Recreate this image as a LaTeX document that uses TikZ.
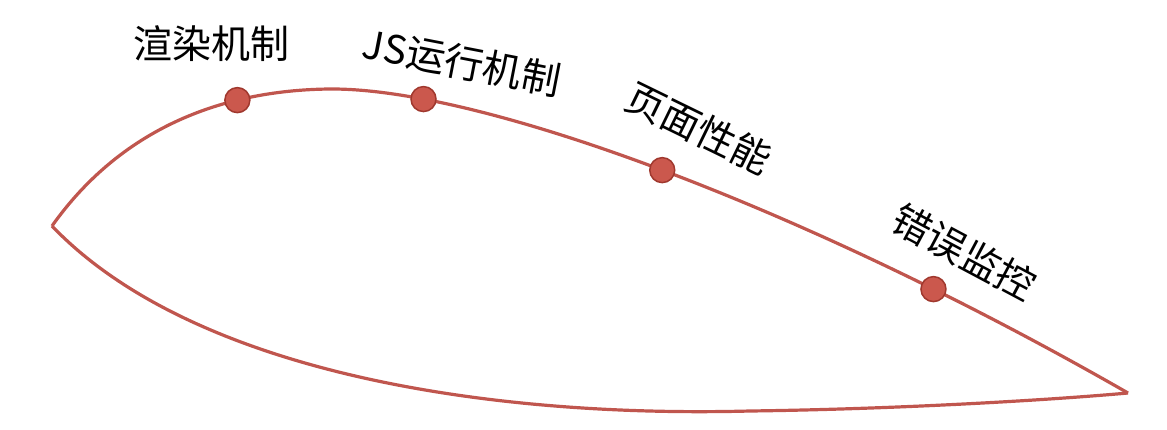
\documentclass[tikz,border=0pt]{standalone}
\usepackage{fontspec}
\newfontfamily\cjk{Noto Sans CJK SC}
\definecolor{linered}{RGB}{192,86,78}
\definecolor{dotfill}{RGB}{203,88,77}
\definecolor{dotdraw}{RGB}{160,56,46}
\tikzset{
  wing/.style={draw=linered, line width=3.2pt, line join=miter},
  dot/.style={circle, fill=dotfill, draw=dotdraw, line width=1.5pt, minimum size=25pt, inner sep=0pt},
  lbl/.style={font=\cjk\fontsize{39}{42}\selectfont, text=black, inner sep=0pt}
}
\begin{document}
\begin{tikzpicture}[x=1pt,y=-1pt]
\useasboundingbox (0,0) rectangle (1167,429);
\coordinate (L) at (52,226);
\coordinate (R) at (1128,393);
\coordinate (T) at (330,89);
\coordinate (B) at (750,411);
% lower outline
\draw[wing] (L) .. controls (190,370) and (480,418) .. (B)
  .. controls (900,409) and (1050,400) .. (R);
% upper outline with the four dots
\draw[wing] (L) .. controls (120,130) and (220,90) .. node[dot,pos=0.71] (d1) {} (T)
  .. controls (480,88) and (800,205) ..
  node[dot,pos=0.175] (d2) {}
  node[dot,pos=0.5] (d3) {}
  node[dot,pos=0.8] (d4) {}
  (R);
% labels
\node[lbl] (l1) at (211,44) {渲染机制};
\node[lbl, rotate=-11] (l2) at (462,62) {JS运行机制};
\node[lbl, rotate=-26] (l3) at (699,128) {页面性能};
\node[lbl, rotate=-28] (l4) at (964,252) {错误监控};
\end{tikzpicture}
\end{document}
